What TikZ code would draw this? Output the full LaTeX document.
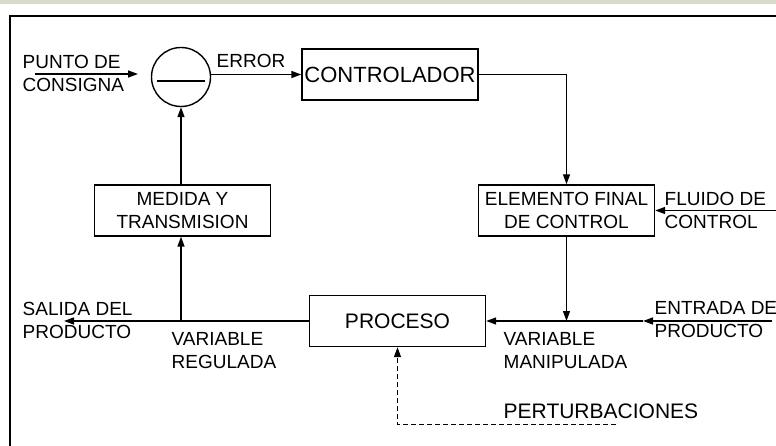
\documentclass[tikz,border=0pt]{standalone}
\usepackage{fontspec}
\setmainfont{Liberation Sans}
\usetikzlibrary{arrows.meta}
\definecolor{franja}{RGB}{214,219,204}
\tikzset{
  bloque/.style = {draw, minimum width = 176pt, minimum height = 51pt, inner sep = 0pt, align = center, font = \fontsize{19}{23}\selectfont},
  etiqueta/.style = {inner sep = 0pt, align = left, font = \fontsize{19}{23}\selectfont},
  flecha/.style = {-{Triangle[length = 10pt, width = 7pt]}}
}
\begin{document}
\begin{tikzpicture}[x = 1pt, y = 1pt, yscale = -1, line width = 1.4pt]
\useasboundingbox (0,0) rectangle (776,446);
\fill[franja] (0,0) rectangle (776,4);
\draw (10,446) -- (10,16) -- (776,16);
% bloques
\node[draw, circle, minimum size = 59pt, inner sep = 0pt] (suma) at (181,77) {};
\draw (suma) ++(-24,4) -- ++(48,0);
\node[bloque, font = \fontsize{22}{26}\selectfont] (ctrl) at (390,74.5) {CONTROLADOR};
\node[bloque] (elem) at (566.5,210.5) {ELEMENTO FINAL\\DE CONTROL};
\node[bloque] (med) at (182.5,210.5) {MEDIDA Y\\TRANSMISION};
\node[bloque, font = \fontsize{21}{25}\selectfont] (proc) at (397.5,321) {PROCESO};
% puntos libres
\coordinate (consigna) at (35,74);
\coordinate (consigna fin) at (138,74);
\coordinate (fluido) at (776,210.5);
\coordinate (entrada) at (772,321);
\coordinate (union) at (643,321);
\coordinate (salida) at (64,321);
\coordinate (rama) at (181,321);
\coordinate (pert) at (616,424);
% conexiones
\draw[flecha] (consigna) -- (consigna fin);
\draw[flecha] (suma.east |- ctrl) -- (ctrl.west);
\draw[flecha] (ctrl.east) -| (elem.north);
\draw[flecha] (fluido) -- (elem.east);
\draw[flecha] (elem.south) -- (elem.south |- proc.east);
\draw[flecha] (entrada) -- (union);
\draw[flecha] (union) -- (proc.east);
\draw[flecha] (proc.west) -- (salida);
\draw[flecha] (rama) -- (rama |- med.south);
\draw[flecha] (rama |- med.north) -- (suma.south);
\draw[flecha, line width = 1pt, dash pattern = on 5pt off 3pt] (pert) -| (proc.south);
% etiquetas
\node[etiqueta, anchor = west] (lconsigna) at (22,73) {PUNTO DE\\CONSIGNA};
\node[etiqueta, anchor = base west] (lerror) at (216,68) {ERROR};
\node[etiqueta, anchor = west] (lfluido) at (664,210) {FLUIDO DE\\CONTROL};
\node[etiqueta, anchor = west] (lentrada) at (654,320) {ENTRADA DE\\PRODUCTO};
\node[etiqueta, anchor = west] (lsalida) at (22,320) {SALIDA DEL\\PRODUCTO};
\node[etiqueta, anchor = west] (lregulada) at (171,351) {VARIABLE\\REGULADA};
\node[etiqueta, anchor = west] (lmanipulada) at (503,351) {VARIABLE\\MANIPULADA};
\node[etiqueta, anchor = base west, font = \fontsize{21}{25}\selectfont] (lpert) at (503,418) {PERTURBACIONES};
\end{tikzpicture}
\end{document}
